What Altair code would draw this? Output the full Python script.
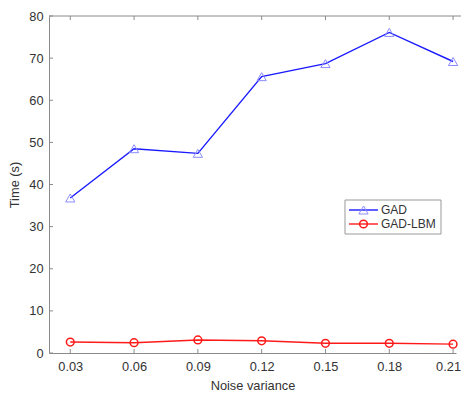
import altair as alt
import pandas as pd

noise = [0.03, 0.06, 0.09, 0.12, 0.15, 0.18, 0.21]
gad = [36.8, 48.5, 47.4, 65.6, 68.7, 76.1, 69.2]
gad_lbm = [2.6, 2.45, 3.1, 2.9, 2.3, 2.3, 2.1]
series_names = ["GAD", "GAD-LBM"]
y_ticks = [0, 10, 20, 30, 40, 50, 60, 70, 80]

df = pd.DataFrame({
    "noise": noise + noise,
    "time": gad + gad_lbm,
    "series": [series_names[0]] * len(noise) + [series_names[1]] * len(noise),
})
xt = pd.DataFrame({"noise": noise})
yt = pd.DataFrame({"time": y_ticks})
leg = pd.DataFrame({"series": series_names})

W, H = 407, 337
AX = "#8a8a8a"
TXT = "#333333"
FONT = "Liberation Sans"

x_enc = alt.X("noise:Q",
              scale=alt.Scale(domain=[0.02, 0.02 + W / 63.8 * 0.03], nice=False, zero=False),
              axis=alt.Axis(values=noise, format=".2f", title="Noise variance",
                            tickSize=0, labelPadding=7, titleY=36, titleBaseline="alphabetic",
                            labelOffset={"condition": {"test": "datum.value > 0.2", "value": -5},
                                         "value": 0},
                            domainColor=AX, grid=False))
y_enc = alt.Y("time:Q",
              scale=alt.Scale(domain=[0, 80], nice=False),
              axis=alt.Axis(values=y_ticks, title="Time (s)",
                            tickSize=0, labelPadding=6, titlePadding=7,
                            domainColor=AX, grid=False))

blue = "#1a1aff"
red = "#ff1a1a"

d_gad = alt.Chart(df).transform_filter(alt.datum.series == series_names[0])
d_lbm = alt.Chart(df).transform_filter(alt.datum.series == series_names[1])

gad_line = d_gad.mark_line(color=blue, strokeWidth=1.4).encode(x=x_enc, y=y_enc)
gad_pts = d_gad.mark_point(shape="triangle-up", filled=False, color="#8c8cff",
                           size=85, strokeWidth=1, opacity=1).encode(x=x_enc, y=y_enc)
lbm_line = d_lbm.mark_line(color=red, strokeWidth=1.4).encode(x=x_enc, y=y_enc)
lbm_pts = d_lbm.mark_point(shape="circle", filled=False, color=red,
                           size=60, strokeWidth=1.5, opacity=1).encode(x=x_enc, y=y_enc)

xt_bot = alt.Chart(xt).mark_rule(color=AX, strokeWidth=1).encode(
    x=x_enc, y=alt.value(H), y2=alt.value(H - 4))
xt_top = alt.Chart(xt).mark_rule(color=AX, strokeWidth=1).encode(
    x=x_enc, y=alt.value(0), y2=alt.value(4))
yt_left = alt.Chart(yt).mark_rule(color=AX, strokeWidth=1).encode(
    y=y_enc, x=alt.value(0), x2=alt.value(4))
top_line = alt.Chart(xt.head(1)).mark_rule(color=AX, strokeWidth=1).encode(
    x=alt.value(0), x2=alt.value(W + 5), y=alt.value(0))

# legend
lx0, lx1, ly0, ly1 = 296, 392, 184, 218
rows = {series_names[0]: 194, series_names[1]: 208}
leg_box = alt.Chart(leg.head(1)).mark_rect(fill="white", stroke="#999999", strokeWidth=1).encode(
    x=alt.value(lx0), x2=alt.value(lx1), y=alt.value(ly0), y2=alt.value(ly1))
legend_layers = [leg_box]
for name, col, shape, pcol, psize, psw in [
    (series_names[0], blue, "triangle-up", "#8c8cff", 85, 1),
    (series_names[1], red, "circle", red, 60, 1.5),
]:
    d = alt.Chart(leg).transform_filter(alt.datum.series == name)
    yy = rows[name]
    legend_layers.append(d.mark_rule(color=col, strokeWidth=1.4).encode(
        x=alt.value(300), x2=alt.value(329), y=alt.value(yy)))
    legend_layers.append(d.mark_point(shape=shape, filled=False, color=pcol, size=psize,
                                      strokeWidth=psw, opacity=1).encode(
        x=alt.value(314.5), y=alt.value(yy)))
    legend_layers.append(d.mark_text(align="left", baseline="middle", font=FONT,
                                     fontSize=12, color=TXT).encode(
        x=alt.value(332), y=alt.value(yy), text="series:N"))

chart = alt.layer(
    top_line, xt_bot, xt_top, yt_left,
    gad_line, gad_pts, lbm_line, lbm_pts,
    *legend_layers
).properties(
    width=W, height=H,
    autosize=alt.AutoSizeParams(type="none"),
    padding={"left": 41, "top": 8, "right": 5, "bottom": 40},
).configure(background="white").configure_view(stroke=None).configure_axis(
    labelFont=FONT, titleFont=FONT, labelFontSize=12.8, titleFontSize=12.8,
    labelColor=TXT, titleColor=TXT, titleFontWeight="normal",
)

chart.save("out.html", embed_options={"renderer": "svg", "actions": False})
